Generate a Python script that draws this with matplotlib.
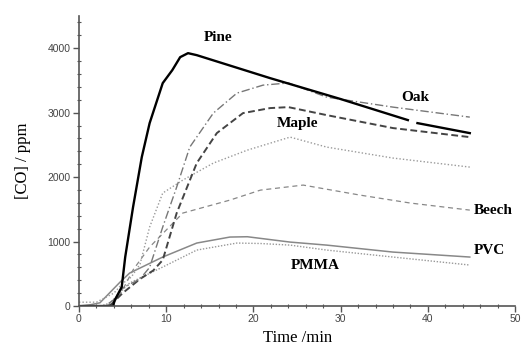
import numpy as np
import matplotlib.pyplot as plt
from matplotlib.ticker import MultipleLocator

# time (min) and CO concentration (ppm)
t_pine = [0, 3.9, 4.1, 4.9, 5.3, 6.2, 7.2, 8.1, 8.7, 9.6, 10.7, 11.6, 12.5, 13.5, 21.9, 30, 37.7, 38.0, 38.8, 44.8]
co_pine = [0, 0, 90, 295, 760, 1535, 2310, 2837, 3085, 3457, 3659, 3860, 3922, 3891, 3535, 3210, 2884, np.nan, 2837, 2682]

t_oak = [0, 3, 4, 5, 7, 8.1, 9.6, 11.2, 12.7, 15.4, 18.1, 21.1, 24, 28.4, 36, 44.8]
co_oak = [0, 0, 100, 280, 420, 600, 1225, 1845, 2465, 2992, 3302, 3426, 3460, 3240, 3085, 2930]

t_maple = [0, 3.5, 5, 7, 8.5, 9.6, 11.2, 13.5, 15.8, 18.8, 21.9, 24, 28.4, 36, 44.8]
co_maple = [0, 0, 200, 420, 550, 713, 1442, 2217, 2682, 2992, 3070, 3085, 2961, 2760, 2620]

t_dotted = [0, 2, 4, 5, 6, 7, 8.1, 9.6, 11.9, 15.4, 19.3, 24.2, 28.4, 36, 44.8]
co_dotted = [60, 60, 200, 350, 450, 650, 1225, 1752, 1953, 2217, 2418, 2620, 2465, 2295, 2155]

t_beech = [0, 3, 4, 5, 6.2, 8.1, 11.9, 17.3, 20.8, 25.7, 32.2, 38, 44.8]
co_beech = [0, 0, 50, 250, 560, 915, 1442, 1643, 1798, 1876, 1721, 1597, 1488]

t_pvc = [0, 1.3, 2.4, 4.7, 5.8, 9.6, 13.5, 17.3, 19.3, 24.2, 28.4, 36, 44.8]
co_pvc = [0, 20, 50, 370, 511, 760, 977, 1070, 1075, 992, 945, 837, 760]

t_pmma = [0, 2.5, 3.6, 5, 5.8, 9.6, 13.5, 18.1, 20.8, 24.2, 28.4, 36, 44.8]
co_pmma = [0, 0, 50, 250, 357, 605, 868, 977, 970, 945, 868, 760, 636]

labels = ['Pine', 'Oak', 'Maple', 'Beech', 'PVC', 'PMMA']
label_t = [15.9, 38.5, 25.1, 45.2, 45.2, 27.1]
label_co = [4170, 3240, 2837, 1488, 860, 636]
label_ha = ['center', 'center', 'center', 'left', 'left', 'center']

fig = plt.figure(figsize=(5.23, 3.53), dpi=100)
ax = fig.add_axes([0.151, 0.133, 0.834, 0.822])

ax.plot(t_pmma, co_pmma, color='#999999', lw=1.0, ls=(0, (1, 1.2)))
ax.plot(t_pvc, co_pvc, color='#888888', lw=1.1, ls='-')
ax.plot(t_beech, co_beech, color='#888888', lw=0.9, ls=(0, (4, 3)))
ax.plot(t_dotted, co_dotted, color='#9a9a9a', lw=1.0, ls=(0, (1, 1.5)))
ax.plot(t_maple, co_maple, color='#444444', lw=1.4, ls=(0, (3.5, 1.8)))
ax.plot(t_oak, co_oak, color='#777777', lw=1.0, ls=(0, (6, 2, 1, 2)))
ax.plot(t_pine, co_pine, color='black', lw=1.7, ls='-')

for name, tx, cy, ha in zip(labels, label_t, label_co, label_ha):
    ax.text(tx, cy, name, ha=ha, va='center', fontsize=11, fontweight='bold',
            family='Liberation Serif')

ax.set_xlim(0, 50)
ax.set_ylim(0, 4500)
ax.set_xticks([0, 10, 20, 30, 40, 50])
ax.set_yticks([0, 1000, 2000, 3000, 4000])
ax.xaxis.set_minor_locator(MultipleLocator(2))
ax.yaxis.set_minor_locator(MultipleLocator(200))

ax.spines['top'].set_visible(False)
ax.spines['right'].set_visible(False)
for s in ['left', 'bottom']:
    ax.spines[s].set_color('#555555')
    ax.spines[s].set_linewidth(1.2)

ax.tick_params(which='major', direction='out', length=4, width=1, color='#555555',
               labelsize=7.5, labelcolor='#444444', pad=2)
ax.tick_params(which='minor', direction='inout', length=3, width=0.8, color='#555555')
for tick in ax.get_xticklabels() + ax.get_yticklabels():
    tick.set_family('Liberation Sans')

ax.set_xlabel('Time /min', family='Liberation Serif', fontsize=12, labelpad=4)
ax.set_ylabel('[CO] / ppm', family='Liberation Serif', fontsize=12, labelpad=12)

fig.savefig('out.png', dpi=100)
